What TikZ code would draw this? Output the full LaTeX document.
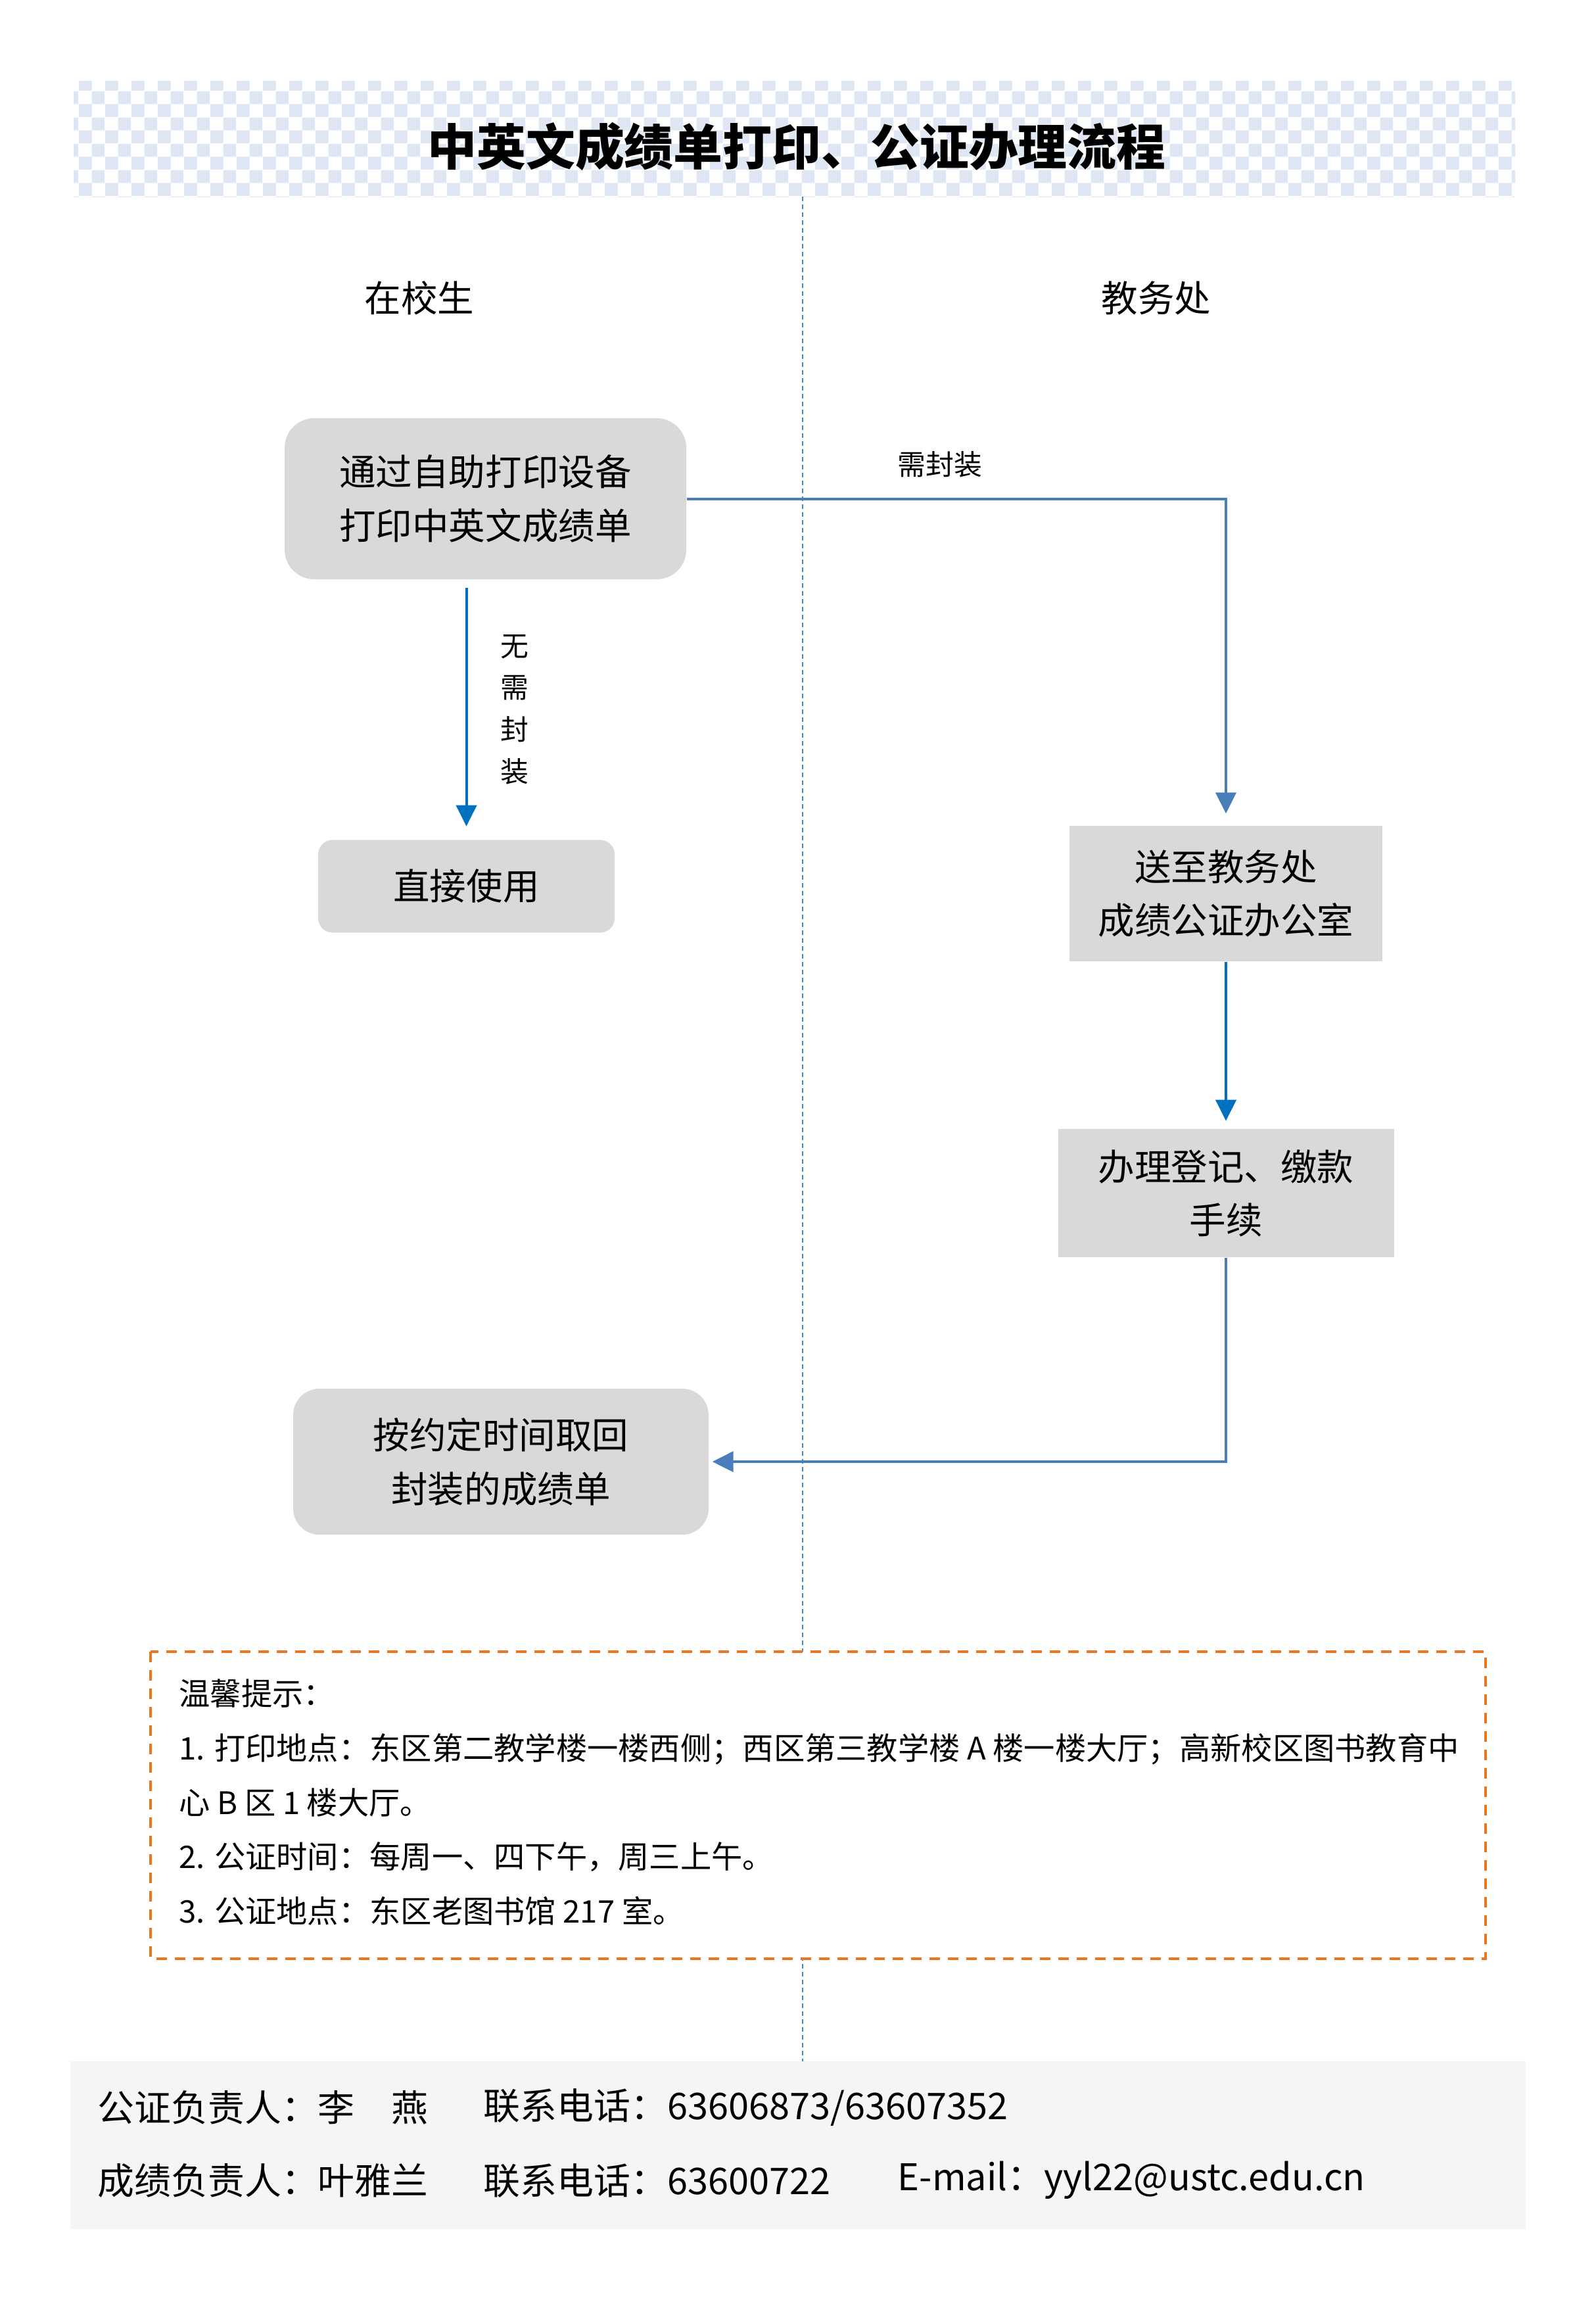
\documentclass[tikz,border=0pt]{standalone}
\usepackage{fontspec}
\setmainfont{Noto Sans CJK SC}
\usetikzlibrary{arrows.meta, positioning, patterns}
\definecolor{boxgray}{RGB}{217,217,217}
\definecolor{flowblue}{RGB}{0,112,192}
\definecolor{steelblue}{RGB}{74,126,187}
\definecolor{laneblue}{RGB}{60,140,190}
\definecolor{checkblue}{RGB}{222,231,243}
\definecolor{tiporange}{RGB}{236,118,30}
\definecolor{footgray}{RGB}{245,245,245}
\newcommand{\ttlfont}{\fontsize{21.3pt}{26pt}\selectfont\bfseries}
\newcommand{\boxfont}{\fontsize{15.8pt}{23.3pt}\selectfont}
\newcommand{\lblfont}{\fontsize{12.2pt}{18.2pt}\selectfont}
\newcommand{\notefont}{\fontsize{13.45pt}{23.6pt}\selectfont}
\newcommand{\footfont}{\fontsize{15.9pt}{20pt}\selectfont}

\begin{document}
\begin{tikzpicture}[
  roundbox/.style={fill=boxgray, rounded corners=0.45cm, align=center, font=\boxfont},
  plainbox/.style={fill=boxgray, align=center, font=\boxfont},
  lane/.style={draw=laneblue, line width=0.02cm, dash pattern=on 0.07cm off 0.05cm},
  lbl/.style={inner sep=0pt, font=\lblfont},
  arrB/.style={draw=flowblue, line width=0.04cm, -{Triangle[length=0.32cm, width=0.31cm]}},
  arrS/.style={draw=steelblue, line width=0.04cm, -{Triangle[length=0.32cm, width=0.31cm]}},
  tipbox/.style={draw=tiporange, fill=white, line width=0.04cm, dash pattern=on 0.16cm off 0.12cm},
  foot/.style={anchor=west, inner sep=0pt, font=\footfont}
]
\useasboundingbox (0,0) rectangle (24.28,-34.98);
\fill[white] (0,0) rectangle (24.28,-34.98);

% title band
\fill[pattern=checkerboard, pattern color=checkblue] (1.12,-1.23) rectangle (23.05,-2.99);
\node[inner sep=0pt, font=\ttlfont] (title) at (12.12,-2.23)
  {中英文成绩单打印、公证办理流程};

% lanes
\draw[lane] (12.21,-2.99) -- (12.21,-31.35);
\node[font=\boxfont] (lstudent) at (6.38,-4.53) {在校生};
\node[font=\boxfont] (loffice) at (17.59,-4.53) {教务处};

% steps
\node[roundbox, minimum width=6.11cm, minimum height=2.45cm] (print) at (7.385,-7.585)
  {通过自助打印设备\\打印中英文成绩单};
\node[roundbox, rounded corners=0.22cm, minimum width=4.51cm, minimum height=1.41cm,
  below=3.95cm of print, xshift=-0.29cm] (direct) {直接使用};
\node[plainbox, minimum width=4.76cm, minimum height=2.06cm] (send) at (18.65,-13.59)
  {送至教务处\\成绩公证办公室};
\node[plainbox, minimum width=5.11cm, minimum height=1.95cm, below=2.54cm of send] (register)
  {办理登记、缴款\\手续};
\node[roundbox, rounded corners=0.4cm, minimum width=6.32cm, minimum height=2.22cm] (fetch)
  at (7.62,-22.23) {按约定时间取回\\封装的成绩单};

\draw[arrB, shorten <=0.12cm, shorten >=0.2cm] (print.south -| direct.north) --
  node[lbl, right=0.5cm, align=center] (nosealtxt) {无\\需\\封\\装} (direct.north);
\draw[arrS, shorten >=0.18cm] (print.east) -| node[lbl, pos=0.235, above=0.3cm] (sealtxt)
  {需封装} (send.north);
\draw[arrB, shorten >=0.12cm] (send.south) -- (register.north);
\draw[arrS, shorten >=0.05cm] (register.south) |- (fetch.east);

% notes
\draw[tipbox] (2.29,-25.12) rectangle (22.60,-29.79);
\node[anchor=west, inner sep=0pt, align=left, font=\notefont] (tips) at (2.72,-27.41)
  {温馨提示：\\
   1. 打印地点：东区第二教学楼一楼西侧；西区第三教学楼 A 楼一楼大厅；高新校区图书教育中\\
   心 B 区 1 楼大厅。\\
   2. 公证时间：每周一、四下午，周三上午。\\
   3. 公证地点：东区老图书馆 217 室。};

% contacts
\fill[footgray] (1.07,-31.35) rectangle (23.21,-33.90);
\node[foot] (sealname) at (1.48,-32.05) {公证负责人：李　燕};
\node[foot] (sealtel) at (7.35,-32.05) {联系电话：63606873/63607352};
\node[foot] (gradename) at (1.48,-33.16) {成绩负责人：叶雅兰};
\node[foot] (gradetel) at (7.35,-33.16) {联系电话：63600722};
\node[foot] (grademail) at (13.65,-33.16) {E-mail：yyl22@ustc.edu.cn};
\end{tikzpicture}
\end{document}
